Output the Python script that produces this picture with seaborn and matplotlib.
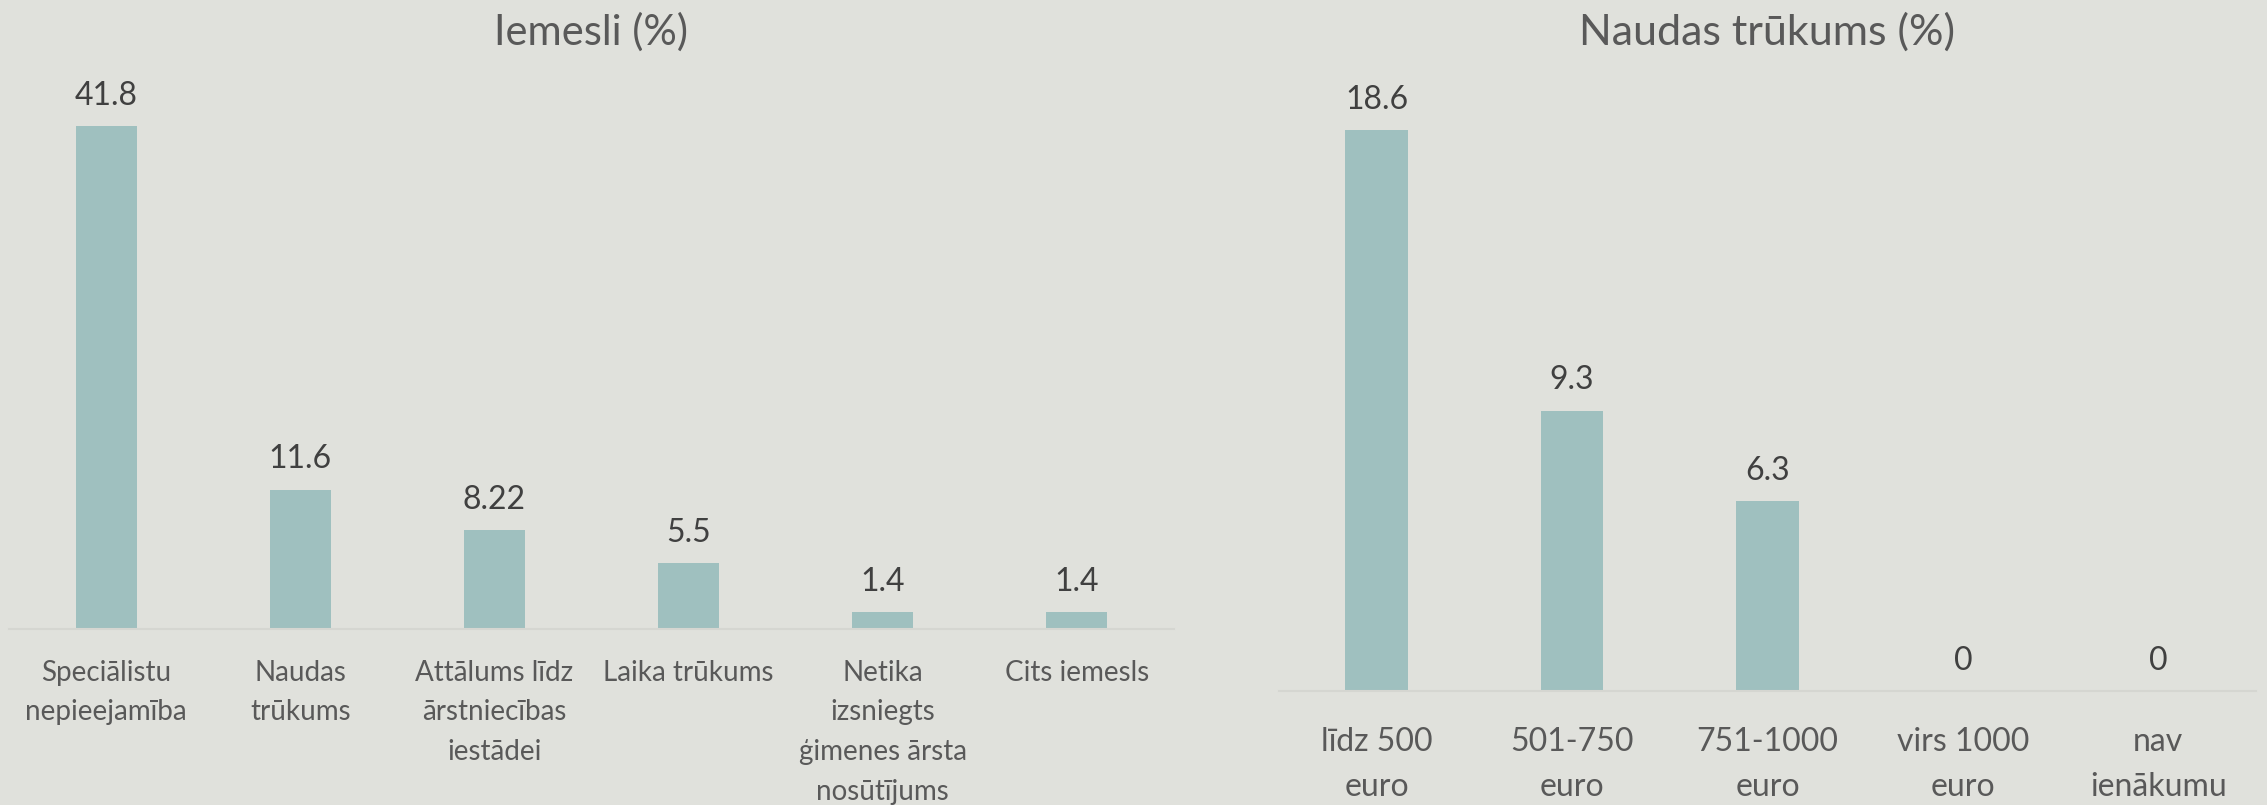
import pandas as pd
import matplotlib
matplotlib.use("Agg")
import matplotlib.pyplot as plt
import seaborn as sns

# data
reasons = ["Speciālistu\nnepieejamība", "Naudas\ntrūkums", "Attālums līdz\nārstniecības\niestādei",
           "Laika trūkums", "Netika\nizsniegts\nģimenes ārsta\nnosūtījums", "Cits iemesls"]
reason_values = [41.8, 11.6, 8.22, 5.5, 1.4, 1.4]

income = ["līdz 500\neuro", "501-750\neuro", "751-1000\neuro", "virs 1000\neuro", "nav\nienākumu"]
income_values = [18.6, 9.3, 6.3, 0, 0]

titles = ["Iemesli (%)", "Naudas trūkums (%)"]

bg = "#e0e1dc"
bar_color = "#9fc0bf"
axis_color = "#d5d6d1"
label_color = "#595959"
value_color = "#404040"

sns.set_style("white")
plt.rcParams["font.family"] = ["Lato", "DejaVu Sans"]

W, H = 2267, 805
fig = plt.figure(figsize=(W / 100, H / 100), dpi=100, facecolor=bg)


def px_axes(x0, x1, ytop, ybot):
    return fig.add_axes([x0 / W, 1 - ybot / H, (x1 - x0) / W, (ybot - ytop) / H])


ax1 = px_axes(9, 1174, 88, 629)
ax2 = px_axes(1279, 2256, 88, 691)

df1 = pd.DataFrame({"reason": reasons, "value": reason_values})
df2 = pd.DataFrame({"income": income, "value": income_values})

sns.barplot(data=df1, x="reason", y="value", ax=ax1, color=bar_color, saturation=1,
            width=0.315, linewidth=0)
sns.barplot(data=df2, x="income", y="value", ax=ax2, color=bar_color, saturation=1,
            width=0.32, linewidth=0)

ax1.set_ylim(0, 45)
ax2.set_ylim(0, 20)

settings = [(ax1, 20, 1.65, 22), (ax2, 23, 1.62, 26)]
for ax, tick_fs, ls, pad in settings:
    ax.set_facecolor(bg)
    ax.set_xlim(-0.5, len(ax.get_xticks()) - 0.5)
    for s in ["top", "left", "right"]:
        ax.spines[s].set_visible(False)
    ax.spines["bottom"].set_color(axis_color)
    ax.spines["bottom"].set_linewidth(1.5)
    ax.set_yticks([])
    ax.set_xlabel("")
    ax.set_ylabel("")
    ax.tick_params(axis="x", length=0, pad=pad, labelsize=tick_fs, labelcolor=label_color)
    for t in ax.get_xticklabels():
        t.set_linespacing(ls)
    ax.bar_label(ax.containers[0], fmt="{:g}", padding=11, fontsize=23, color=value_color)

fig.text(591 / W, 1 - 45 / H, titles[0], ha="center", va="baseline", fontsize=30, color=label_color)
fig.text(1767 / W, 1 - 45 / H, titles[1], ha="center", va="baseline", fontsize=31, color=label_color)

fig.savefig("out.png", dpi=100, facecolor=bg)
